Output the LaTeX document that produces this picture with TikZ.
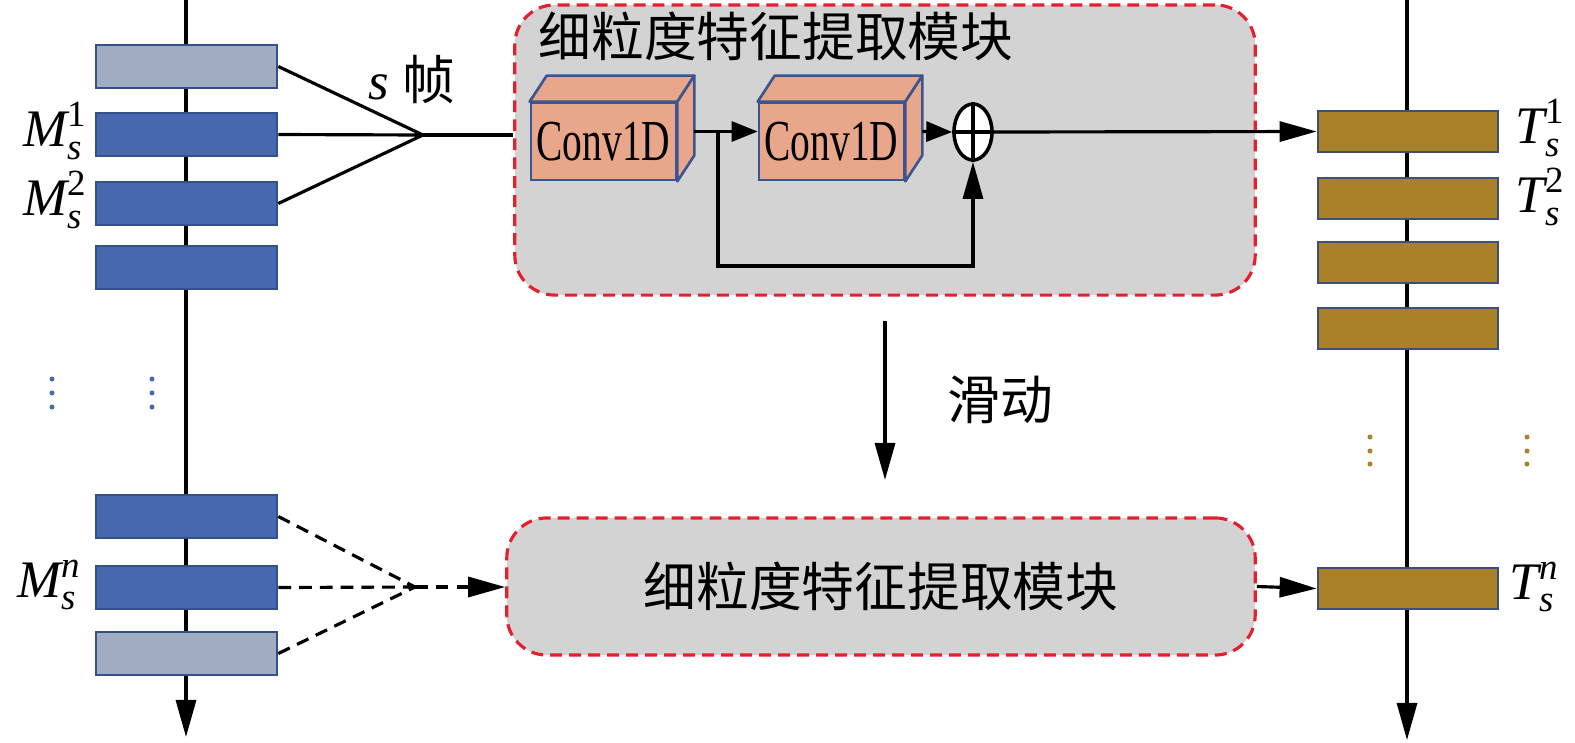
\documentclass[tikz,border=0pt]{standalone}
\usepackage{amsmath}
\usepackage{fontspec}
\setmainfont{Liberation Serif}
\newfontfamily\cjk{Noto Sans CJK SC}
\usetikzlibrary{arrows.meta,positioning,shapes.geometric}
\definecolor{mblue}{HTML}{4767AE}
\definecolor{mlight}{HTML}{A0ACC0}
\definecolor{medge}{HTML}{34508A}
\definecolor{tgold}{HTML}{A88128}
\definecolor{tedge}{HTML}{3E4F7A}
\definecolor{convfill}{HTML}{E8A78A}
\definecolor{convedge}{HTML}{3A5590}
\definecolor{modfill}{HTML}{D3D3D3}
\definecolor{modred}{HTML}{E3202E}

\begin{document}
\begin{tikzpicture}[x=0.01cm, y=-0.01cm, every node/.style={font=\fontsize{15}{18}\selectfont},
  bar/.style={draw=medge, line width=0.75pt, fill=mblue, minimum width=1.81cm, minimum height=0.43cm, inner sep=0pt},
  barlight/.style={bar, fill=mlight},
  tbar/.style={bar, draw=tedge, fill=tgold, minimum width=1.8cm, minimum height=0.41cm},
  module/.style={draw=modred, fill=modfill, line width=0.9pt, dash pattern=on 3.4pt off 2pt, rounded corners=0.4cm},
  conv/.style={draw=convedge, fill=convfill, line width=0.75pt},
  ln/.style={line width=0.9pt},
  dln/.style={ln, dash pattern=on 3.6pt off 2.3pt},
  arr/.style={ln, -{Triangle[length=0.37cm, width=0.2cm]}},
  sarr/.style={ln, -{Triangle[length=0.26cm, width=0.2cm]}}]
  \useasboundingbox (0,0) rectangle (1575,742);
  % time axes
  \coordinate (ltop) at (186,0);
  \coordinate (lbot) at (186,737);
  \coordinate (rtop) at (1407,0);
  \coordinate (rbot) at (1407,740);
  \draw[arr] (ltop) -- (lbot);
  \draw[arr] (rtop) -- (rbot);
  % input frames
  \node[barlight] (m0) at (186.5,66.5) {};
  \node[bar] (m1) at (186.5,134.5) {};
  \node[bar] (m2) at (186.5,203.5) {};
  \node[bar] (m3) at (186.5,267.5) {};
  \node[bar] (mn0) at (186.5,516.5) {};
  \node[bar] (mn) at (186.5,587.5) {};
  \node[barlight] (mn2) at (186.5,653.5) {};
  \node[anchor=east, inner sep=0pt] (lm1) at (88,131) {$\textit{M}_{\textit{s}}^{\text{1}}$};
  \node[anchor=east, inner sep=0pt] (lm2) at (88,200) {$\textit{M}_{\textit{s}}^{\text{2}}$};
  \node[anchor=east, inner sep=0pt] (lmn) at (82,585) {$\textit{M}_{\textit{s}}^{\textit{n}}$};
  \foreach \y in {379,393,407} {
    \fill[mblue] (52,\y) circle (0.25mm);
    \fill[mblue] (152,\y) circle (0.25mm);
  }
  % output features
  \node[tbar] (t1) at (1408,131.5) {};
  \node[tbar] (t2) at (1408,198.5) {};
  \node[tbar] (t3) at (1408,262.5) {};
  \node[tbar] (t4) at (1408,328.5) {};
  \node[tbar] (tn) at (1408,588.5) {};
  \node[anchor=west, inner sep=0pt] (lt1) at (1515,128) {$\textit{T}_{\textit{s}}^{\text{1}}$};
  \node[anchor=west, inner sep=0pt] (lt2) at (1515,197) {$\textit{T}_{\textit{s}}^{\text{2}}$};
  \node[anchor=west, inner sep=0pt] (ltn) at (1509,587) {$\textit{T}_{\textit{s}}^{\textit{n}}$};
  \foreach \y in {437,451,464} {
    \fill[tgold] (1370,\y) circle (0.25mm);
    \fill[tgold] (1527,\y) circle (0.25mm);
  }
  % upper module
  \node[module, minimum width=7.4cm, minimum height=2.9cm] (fm) at (885,150) {};
  \node[anchor=west, inner sep=0pt] (title) at (538,36) {\cjk 细粒度特征提取模块};
  \node[conv, minimum width=1.45cm, minimum height=0.77cm, inner sep=0pt] (c1) at (603.5,141.5)
    {\fontsize{16.5}{18}\selectfont\scalebox{0.68}[1]{Conv1D}};
  \node[conv, minimum width=1.45cm, minimum height=0.77cm, inner sep=0pt] (c2) at (831.5,141.5)
    {\fontsize{16.5}{18}\selectfont\scalebox{0.68}[1]{Conv1D}};
  \foreach \c in {c1,c2} {
    \draw[conv, line join=round] (\c.north west) -- ++(17,-26) -- ([shift={(17,-26)}]\c.north east) -- (\c.north east) -- cycle;
    \draw[conv, line join=round] (\c.north east) -- ++(17,-26) -- ([shift={(17,-26)}]\c.south east) -- (\c.south east) -- cycle;
  }
  \node[ellipse, draw, fill=white, line width=1pt, minimum width=0.38cm, minimum height=0.56cm, inner sep=0pt] (add) at (973,132) {};
  \draw[line width=1pt] (add.north) -- (add.south) (add.west) -- (add.east);
  \coordinate (o1) at ([shift={(17,-10)}]c1.east);
  \coordinate (o2) at ([shift={(17,-10)}]c2.east);
  \coordinate (br) at (718,266);
  \draw[sarr] (o1) -- (c2.west |- o1);
  \draw[sarr] (o2) -- (add.west);
  \draw[arr] (br |- o1) -- (br) -| (add.south);
  \draw[arr] (add.east) -- (t1.west);
  % s frames into module
  \coordinate (ap) at (423,135);
  \draw[ln] (m0.east) -- (ap) (m1.east) -- (ap) (m2.east) -- (ap);
  \draw[ln] (ap) -- (ap -| fm.west);
  \node (sf) at (412,80) {\textit{s} {\cjk 帧}};
  % sliding
  \coordinate (s0) at (885,321);
  \coordinate (s1) at (885,480);
  \draw[arr] (s0) -- (s1);
  \node (slide) at (1000,400) {\cjk 滑动};
  % lower module
  \node[module, minimum width=7.48cm, minimum height=1.37cm] (lm) at (881,586.5) {};
  \node (lmt) at (lm.center) {\cjk 细粒度特征提取模块};
  \coordinate (ap2) at (415,587);
  \draw[dln] (mn0.east) -- (ap2) (mn.east) -- (ap2) (mn2.east) -- (ap2);
  \draw[dln, -{Triangle[length=0.37cm, width=0.2cm]}] (ap2) -- (lm.west |- ap2);
  \draw[arr] (lm.east) -- (tn.west);
\end{tikzpicture}
\end{document}
